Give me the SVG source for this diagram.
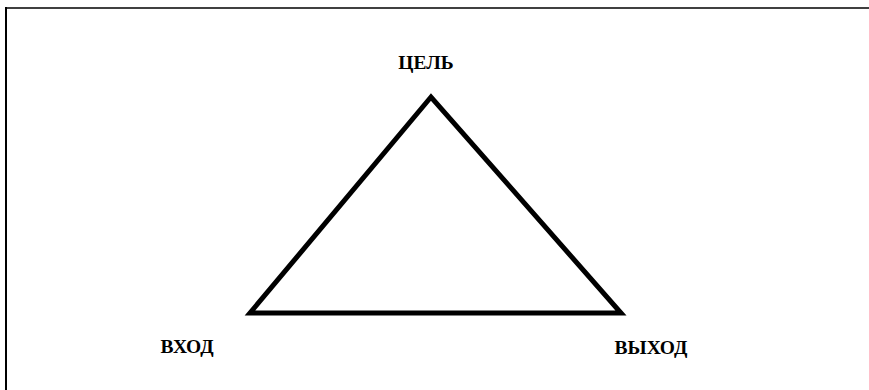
<svg xmlns="http://www.w3.org/2000/svg" width="869" height="390" viewBox="0 0 869 390">
<style>
.lbl{font-family:"Liberation Serif","Times New Roman",serif;font-weight:bold;font-size:19.5px;fill:#000}
.edge{stroke:#000;stroke-width:5;fill:none;stroke-linejoin:miter}
</style>
<rect width="869" height="390" fill="#fff"/>
<line x1="5" y1="8" x2="869" y2="8" stroke="#404040" stroke-width="2"/>
<line x1="6" y1="7" x2="6" y2="390" stroke="#000" stroke-width="2"/>
<g id="connectors">
<polygon class="edge" points="431,97 250,313 621,313"/>
</g>
<g id="goal"><text class="lbl" x="426" y="69" text-anchor="middle">ЦЕЛЬ</text></g>
<g id="input"><text class="lbl" x="187" y="353" text-anchor="middle">ВХОД</text></g>
<g id="output"><text class="lbl" x="651" y="354" text-anchor="middle">ВЫХОД</text></g>
</svg>
